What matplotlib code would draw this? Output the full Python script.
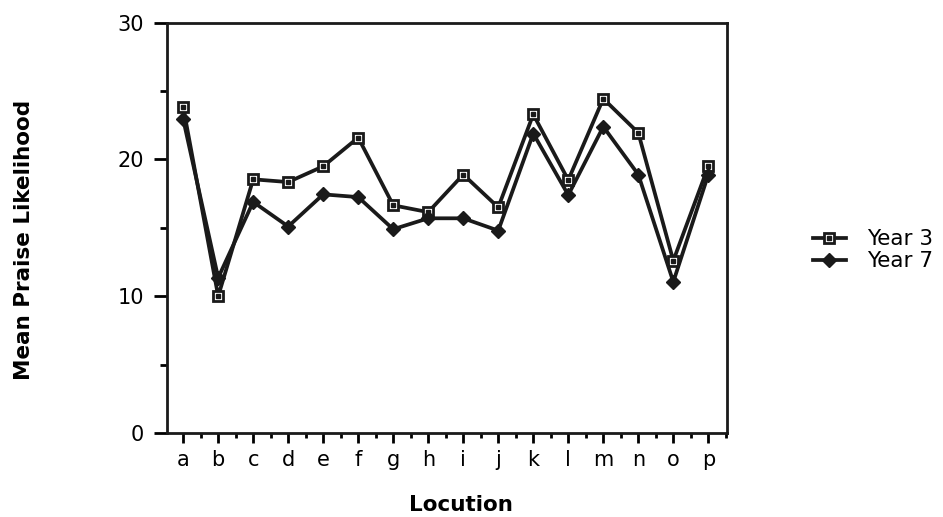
import matplotlib
matplotlib.use("Agg")
import matplotlib.pyplot as plt
import numpy as np
from matplotlib.legend_handler import HandlerTuple
from matplotlib.ticker import MultipleLocator

locations = ["a", "b", "c", "d", "e", "f", "g", "h", "i", "j", "k", "l", "m", "n", "o", "p"]
year3 = [23.85, 10.0, 18.55, 18.35, 19.5, 21.6, 16.65, 16.15, 18.9, 16.5, 23.3, 18.5, 24.45, 21.95, 12.6, 19.5]
year7 = [22.95, 11.35, 16.9, 15.1, 17.45, 17.25, 14.9, 15.7, 15.7, 14.8, 21.9, 17.4, 22.4, 18.9, 11.05, 18.9]

plt.rcParams["font.family"] = "DejaVu Sans"

fig = plt.figure(figsize=(9.43, 5.17), dpi=100)
ax = fig.add_axes([0.1768, 0.1625, 0.594, 0.7935])

x = np.arange(len(locations))

# Year 3: open squares with a small dot in the middle
l3, = ax.plot(x, year3, color="#1a1a1a", linewidth=2.7, marker="s", markersize=7.8,
              markerfacecolor="white", markeredgecolor="#1a1a1a", markeredgewidth=2.0, zorder=3)
d3, = ax.plot(x, year3, linestyle="none", marker="s", markersize=2.2,
              color="#1a1a1a", zorder=4)
# Year 7: filled diamonds
l7, = ax.plot(x, year7, color="#1a1a1a", linewidth=2.7, marker="D", markersize=7.5,
              markerfacecolor="#1a1a1a", markeredgecolor="#1a1a1a", zorder=5)

ax.set_xlim(-0.47, 15.53)
ax.set_ylim(0, 30)
ax.set_xticks(x)
ax.set_xticklabels(locations)
ax.xaxis.set_minor_locator(MultipleLocator(0.5))
ax.set_yticks([0, 10, 20, 30])
ax.yaxis.set_minor_locator(MultipleLocator(5))

for s in ax.spines.values():
    s.set_linewidth(2.0)
    s.set_color("#1a1a1a")

ax.tick_params(axis="y", which="major", direction="out", length=9.5, width=2, pad=7, labelsize=15)
ax.tick_params(axis="y", which="minor", direction="out", length=5, width=2)
ax.tick_params(axis="x", which="major", direction="out", length=7.5, width=2, pad=5, labelsize=15)
ax.tick_params(axis="x", which="minor", direction="out", length=3.5, width=2)

ax.set_xlabel("Locution", fontsize=15.5, fontweight="bold")
ax.set_ylabel("Mean Praise Likelihood", fontsize=15.5, fontweight="bold")
ax.xaxis.set_label_coords(0.526, -0.152)
ax.yaxis.set_label_coords(-0.237, 0.471)

fig.legend([(l3, d3), l7], ["Year 3", "Year 7"], loc="center left",
           bbox_to_anchor=(0.851, 0.516), frameon=False, fontsize=15.5,
           borderpad=0, handlelength=1.5, handletextpad=1.0, labelspacing=0.08,
           handler_map={tuple: HandlerTuple(ndivide=1)})

fig.savefig("out.png", dpi=100)
